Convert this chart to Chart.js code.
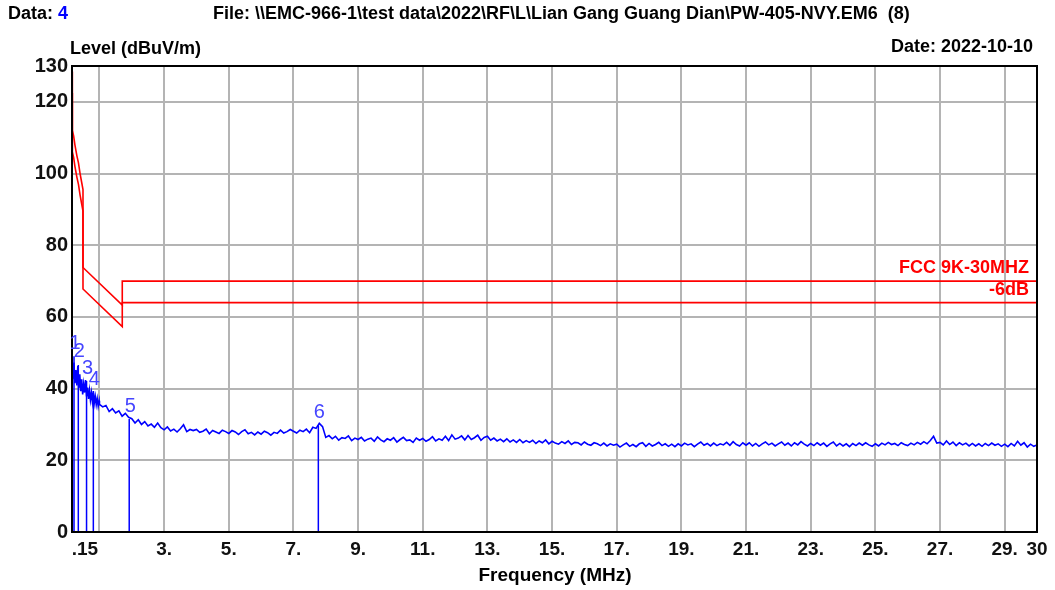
<!DOCTYPE html>
<html>
<head>
<meta charset="utf-8">
<script src="https://cdn.jsdelivr.net/npm/chart.js@4.4.0/dist/chart.umd.min.js"></script>
<style>
  html, body { margin: 0; padding: 0; background: #fff; }
</style>
</head>
<body>
<canvas id="emc" width="1055" height="590"></canvas>
<script>
// sweep below 1 MHz (0.03 MHz steps from 0.15) and above (0.1 MHz steps from 1.0)
const lowStart = 0.15, lowStep = 0.03;
const lowLevels = [44.8, 42.6, 47.3, 41.5, 45.2, 40.9, 46.3, 40.2, 44.0, 39.3,
  42.6, 38.4, 41.3, 38.9, 42.4, 37.8, 40.3, 37.1, 39.5, 36.8,
  38.9, 36.4, 39.3, 36.0, 37.8, 35.5, 37.2, 35.1, 36.6];
const midStart = 1.0, midStep = 0.1;
const midLevels = [
  35.6, 34.9, 35.3, 33.6, 34.4, 33.2, 33.8, 32.3, 33.1, 32.0,
  31.6, 30.4, 31.3, 30.0, 30.8, 29.6, 30.1, 29.2, 30.4, 29.1,
  28.5, 29.3, 28.2, 28.7, 27.9, 28.8, 29.9, 28.0, 28.6, 28.3,
  28.6, 27.8, 28.1, 28.7, 27.4, 28.3, 27.9, 27.5, 28.4, 28.0,
  27.5, 28.3, 27.9, 27.2, 28.0, 28.5, 27.4, 27.8, 27.1, 27.9,
  27.3, 28.1, 27.7, 27.0, 27.8, 27.5, 28.4, 27.6, 28.0, 28.6,
  28.1, 27.6, 28.4, 28.0, 28.7, 27.7, 29.2, 28.9, 30.3, 29.4,
  26.4, 26.9, 26.0, 26.7, 25.6, 26.3, 26.1, 26.8, 25.5, 26.2,
  25.8, 26.4, 25.4, 25.9, 26.2, 25.3, 26.5, 25.7, 25.2, 26.0,
  25.6, 26.3, 25.1, 25.8, 26.4, 25.5, 25.7, 25.0, 26.2, 25.6,
  26.1, 25.3, 25.8, 26.6, 25.4, 26.0, 25.6, 26.7, 25.5, 27.1,
  25.9, 26.2, 26.8, 25.7, 26.9, 25.8, 26.3, 27.0, 25.6, 26.4,
  26.7, 25.6, 26.2, 25.4, 25.9, 25.2, 26.0, 25.1, 25.7, 25.0,
  25.8, 24.9, 25.5, 25.0, 25.6, 24.7, 25.4, 24.9, 25.7, 24.6,
  25.3, 24.8, 24.5, 25.2, 24.7, 25.4, 24.4, 25.0, 24.9, 24.3,
  25.1, 24.5, 24.2, 24.9, 24.6, 24.1, 24.8, 24.0, 24.6, 24.2,
  24.5, 23.7, 24.3, 24.8, 23.9, 24.4, 23.8, 24.6, 24.9, 23.9,
  24.7, 24.0, 24.4, 25.0, 24.1, 24.6, 23.9, 24.5, 23.8, 24.6,
  24.0, 24.8, 24.3, 24.6, 23.8, 24.5, 25.1, 24.2, 24.7, 24.0,
  24.8, 24.1, 24.6, 24.3, 25.0, 24.2, 25.2, 24.4, 24.0, 24.9,
  24.2, 24.9, 24.0, 24.7, 23.9, 24.6, 25.1, 24.3, 24.8, 24.0,
  24.6, 25.1, 24.2, 24.8, 24.0, 24.9, 24.3, 25.2, 24.5, 24.0,
  24.7, 24.1, 24.9, 24.2, 24.8, 23.9, 24.6, 25.1, 24.0, 24.7,
  24.0, 24.6, 23.8, 24.7, 24.1, 24.8, 24.2, 24.9, 24.3, 23.9,
  24.6, 24.0, 24.8, 24.3, 25.0, 24.4, 24.7, 24.1, 24.9, 24.4,
  24.1, 24.8, 24.3, 25.0, 24.5, 25.2, 24.6, 25.5, 26.7, 24.8,
  25.0, 24.3, 25.4, 24.4, 25.1, 24.1, 24.9, 24.3, 24.8, 24.0,
  24.7, 24.0, 24.6, 23.9, 24.7, 24.1, 24.8, 24.2, 24.6, 23.9,
  24.5, 23.8, 24.7, 24.0, 25.3, 24.2, 24.9, 23.7, 24.5, 23.9,
  24.3];

// FCC 15.209 limit (shown at 3 m) and the -6 dB line
const limitFreq   = [0.15, 0.153, 0.17, 0.20, 0.24, 0.30, 0.35, 0.40, 0.45, 0.49, 0.49, 1.705, 1.705, 30];
const limitLevel  = [128.5, 116.0, 112.0, 110.5, 108.0, 105.0, 103.0, 100.0, 97.5, 95.5, 73.8, 63.3, 70.0, 70.0];
const marginLevel = [122.5, 110.0, 106.0, 104.5, 102.0, 99.0, 97.0, 94.0, 91.5, 89.5, 67.8, 57.3, 64.0, 64.0];

// peak markers
const markerNo    = ['1', '2', '3', '4', '5', '6'];
const markerFreq  = [0.212, 0.345, 0.60, 0.81, 1.92, 7.77];
const markerLevel = [49.0, 46.6, 42.1, 38.8, 31.5, 29.8];

const xTickValues = [0.55, 1, 3, 5, 7, 9, 11, 13, 15, 17, 19, 21, 23, 25, 27, 29, 30];
const xTickLabels = ['.15', '', '3.', '5.', '7.', '9.', '11.', '13.', '15.', '17.', '19.', '21.', '23.', '25.', '27.', '29.', '30'];
const yTickValues = [0, 20, 40, 60, 80, 100, 120, 130];

const trace = [];
lowLevels.forEach((v, i) => trace.push({ x: +(lowStart + i * lowStep).toFixed(3), y: v }));
midLevels.forEach((v, i) => trace.push({ x: +(midStart + i * midStep).toFixed(2), y: v }));

const markerLines = [];
markerFreq.forEach((f, i) => {
  markerLines.push({ x: f, y: 0 }, { x: f, y: markerLevel[i] }, { x: f, y: null });
});

const FONT = '"Liberation Sans", Arial, sans-serif';
const GRID = '#b4b4b4';

const extras = {
  id: 'extras',
  afterDraw(chart) {
    const { ctx, chartArea: a, scales } = chart;
    ctx.save();
    // frame
    ctx.strokeStyle = '#000';
    ctx.lineWidth = 2;
    ctx.strokeRect(a.left, a.top, a.right - a.left, a.bottom - a.top);

    ctx.textBaseline = 'middle';
    ctx.font = 'bold 18px ' + FONT;
    ctx.fillStyle = '#000';
    ctx.textAlign = 'left';
    ctx.fillText('Data: ', 8, 14);
    const w = ctx.measureText('Data: ').width;
    ctx.fillStyle = '#0000ff';
    ctx.fillText('4', 8 + w, 14);
    ctx.fillStyle = '#000';
    ctx.fillText('File: \\\\EMC-966-1\\test data\\2022\\RF\\L\\Lian Gang Guang Dian\\PW-405-NVY.EM6  (8)', 213, 14);

    ctx.fillText('Level (dBuV/m)', 70, 49);
    ctx.textAlign = 'right';
    ctx.fillText('Date: 2022-10-10', 1033, 47);

    ctx.textAlign = 'center';
    ctx.font = 'bold 19px ' + FONT;
    ctx.fillText('Frequency (MHz)', 555, 576);

    // limit names
    ctx.fillStyle = '#ff0000';
    ctx.textAlign = 'right';
    ctx.font = 'bold 18px ' + FONT;
    ctx.fillText('FCC 9K-30MHZ', 1029, 268);
    ctx.fillText('-6dB', 1029, 290);

    // marker numbers
    ctx.fillStyle = '#4646ff';
    ctx.textAlign = 'center';
    ctx.font = '20px ' + FONT;
    markerNo.forEach((t, i) => {
      const x = scales.x.getPixelForValue(markerFreq[i]);
      const y = scales.y.getPixelForValue(markerLevel[i]);
      ctx.fillText(t, x + 1, y - 13);
    });
    ctx.restore();
  }
};

new Chart(document.getElementById('emc'), {
  type: 'line',
  data: {
    datasets: [
      { data: trace, borderColor: '#0000ff', borderWidth: 1.6, pointRadius: 0, tension: 0 },
      { data: markerLines, borderColor: '#0000ff', borderWidth: 1.5, pointRadius: 0, spanGaps: false },
      { data: limitFreq.map((f, i) => ({ x: f, y: limitLevel[i] })), borderColor: '#ff0000', borderWidth: 1.6, pointRadius: 0 },
      { data: limitFreq.map((f, i) => ({ x: f, y: marginLevel[i] })), borderColor: '#ff0000', borderWidth: 1.6, pointRadius: 0 }
    ]
  },
  options: {
    responsive: false,
    animation: false,
    layout: { padding: { top: 66, right: 18, left: 0, bottom: 0 } },
    plugins: { legend: { display: false }, tooltip: { enabled: false } },
    scales: {
      x: {
        type: 'linear',
        min: 0.15,
        max: 30,
        afterBuildTicks: s => { s.ticks = xTickValues.map(v => ({ value: v })); },
        afterFit: s => { s.height = 58; },
        ticks: {
          autoSkip: false,
          maxRotation: 0,
          padding: 6,
          color: '#111',
          font: { family: FONT, size: 19, weight: 'bold' },
          callback: v => xTickLabels[xTickValues.indexOf(v)]
        },
        grid: {
          drawTicks: false,
          lineWidth: 2,
          color: c => (c.tick && (c.tick.value === 0.55 || c.tick.value === 30)) ? 'rgba(0,0,0,0)' : GRID
        },
        border: { color: '#000', width: 2 }
      },
      y: {
        min: 0,
        max: 130,
        afterBuildTicks: s => { s.ticks = yTickValues.map(v => ({ value: v })); },
        afterFit: s => { s.width = 72; },
        ticks: {
          padding: 4,
          color: '#111',
          font: { family: FONT, size: 20, weight: 'bold' }
        },
        grid: {
          drawTicks: false,
          lineWidth: 2,
          color: c => (c.tick && (c.tick.value === 130 || c.tick.value === 0)) ? 'rgba(0,0,0,0)' : GRID
        },
        border: { color: '#000', width: 2 }
      }
    }
  },
  plugins: [extras]
});
</script>
</body>
</html>
